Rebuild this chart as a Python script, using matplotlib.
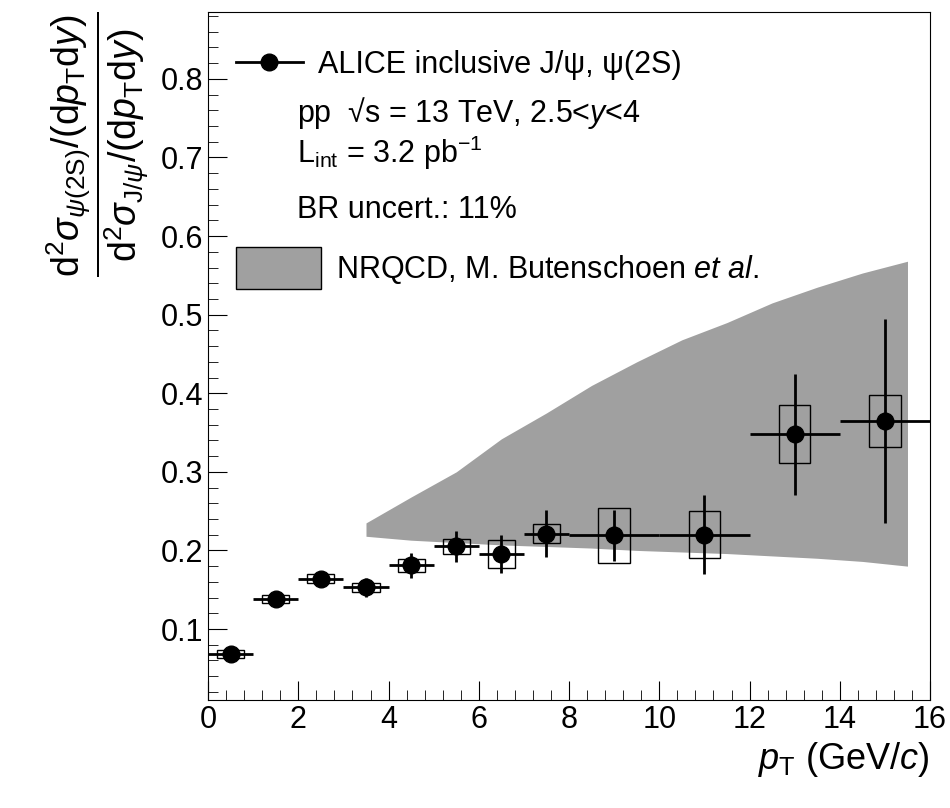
import numpy as np
import matplotlib.pyplot as plt
from matplotlib.patches import Rectangle, Patch
from matplotlib.lines import Line2D
from matplotlib.ticker import MultipleLocator

plt.rcParams['font.family'] = ['Liberation Sans', 'DejaVu Sans']
plt.rcParams['mathtext.fontset'] = 'custom'
plt.rcParams['mathtext.rm'] = 'Liberation Sans'
plt.rcParams['mathtext.it'] = 'Liberation Sans:italic'

# data
pt = [0.5, 1.5, 2.5, 3.5, 4.5, 5.5, 6.5, 7.5, 9, 11, 13, 15]
pt_err = [0.5, 0.5, 0.5, 0.5, 0.5, 0.5, 0.5, 0.5, 1, 1, 1, 1]
ratio = [0.068, 0.138, 0.164, 0.153, 0.181, 0.205, 0.195, 0.221, 0.219, 0.220, 0.348, 0.365]
stat = [0.010, 0.006, 0.008, 0.012, 0.016, 0.020, 0.024, 0.030, 0.033, 0.050, 0.077, 0.130]
syst = [0.005, 0.005, 0.006, 0.006, 0.008, 0.009, 0.018, 0.012, 0.035, 0.030, 0.037, 0.033]
box_w = [0.3, 0.3, 0.3, 0.3, 0.3, 0.3, 0.3, 0.3, 0.35, 0.35, 0.35, 0.35]

band_x = [3.5, 4.5, 5.5, 6.5, 7.5, 8.5, 9.5, 10.5, 11.5, 12.5, 13.5, 14.5, 15.5]
band_hi = [0.235, 0.268, 0.300, 0.342, 0.375, 0.410, 0.440, 0.468, 0.490, 0.515, 0.535, 0.553, 0.568]
band_lo = [0.218, 0.213, 0.210, 0.207, 0.205, 0.203, 0.200, 0.198, 0.196, 0.193, 0.190, 0.186, 0.180]

fig = plt.figure(figsize=(9.5, 8.08), dpi=100)
ax = fig.add_axes([0.219, 0.134, 0.76, 0.851])

ax.fill_between(band_x, band_lo, band_hi, color='#a0a0a0', lw=0, zorder=1)

for x, y, s, w in zip(pt, ratio, syst, box_w):
    ax.add_patch(Rectangle((x - w, y - s), 2 * w, 2 * s, fill=False, ec='black', lw=1, zorder=2))

ax.errorbar(pt, ratio, xerr=pt_err, yerr=stat, fmt='o', color='black', ms=12,
            elinewidth=2, capsize=0, zorder=3)

ax.set_xlim(0, 16)
ax.set_ylim(0.01, 0.885)
ax.xaxis.set_major_locator(MultipleLocator(2))
ax.xaxis.set_minor_locator(MultipleLocator(0.4))
ax.yaxis.set_minor_locator(MultipleLocator(0.02))
ax.tick_params(which='both', direction='in', labelsize=22, top=False, right=False)
ax.tick_params(which='major', length=14)
ax.tick_params(which='minor', length=7)
ax.set_yticks([0.1, 0.2, 0.3, 0.4, 0.5, 0.6, 0.7, 0.8])
ax.set_yticklabels(['0.1', '0.2', '0.3', '0.4', '0.5', '0.6', '0.7', '0.8'])

ax.set_xlabel(r'$p_{\mathrm{T}}$ (GeV/$c$)', fontsize=26, loc='right')
ax.set_ylabel(r'$\dfrac{\mathrm{d}^2\sigma_{\psi(2\mathrm{S})}/(\mathrm{d}p_{\mathrm{T}}\mathrm{d}y)}'
              r'{\mathrm{d}^2\sigma_{\mathrm{J}/\psi}/(\mathrm{d}p_{\mathrm{T}}\mathrm{d}y)}$',
              fontsize=27, loc='top', labelpad=8)

h1 = Line2D([], [], color='black', lw=2, marker='o', ms=12)
leg1 = ax.legend([h1], ['ALICE inclusive J/ψ, ψ(2S)'], loc='center left',
                 bbox_to_anchor=(0.0, 0.923), frameon=False, fontsize=22,
                 handlelength=2.2, handletextpad=0.5, borderaxespad=0.5)
ax.add_artist(leg1)
h2 = Patch(facecolor='#a0a0a0', edgecolor='black', lw=1)
ax.legend([h2], ['NRQCD, M. Butenschoen $et$ $al.$'], loc='center left',
          bbox_to_anchor=(0.0, 0.628), frameon=False, fontsize=22,
          handlelength=2.8, handleheight=1.7, handletextpad=0.5, borderaxespad=0.5)

ax.text(0.123, 0.853, 'pp  √s = 13 TeV, 2.5<$y$<4', transform=ax.transAxes,
        fontsize=22, va='center')
ax.text(0.123, 0.795, 'L$_{\\mathrm{int}}$ = 3.2 pb$^{-1}$', transform=ax.transAxes,
        fontsize=22, va='center')
ax.text(0.123, 0.712, 'BR uncert.: 11%', transform=ax.transAxes, fontsize=22, va='center')

fig.savefig('out.png', dpi=100)
